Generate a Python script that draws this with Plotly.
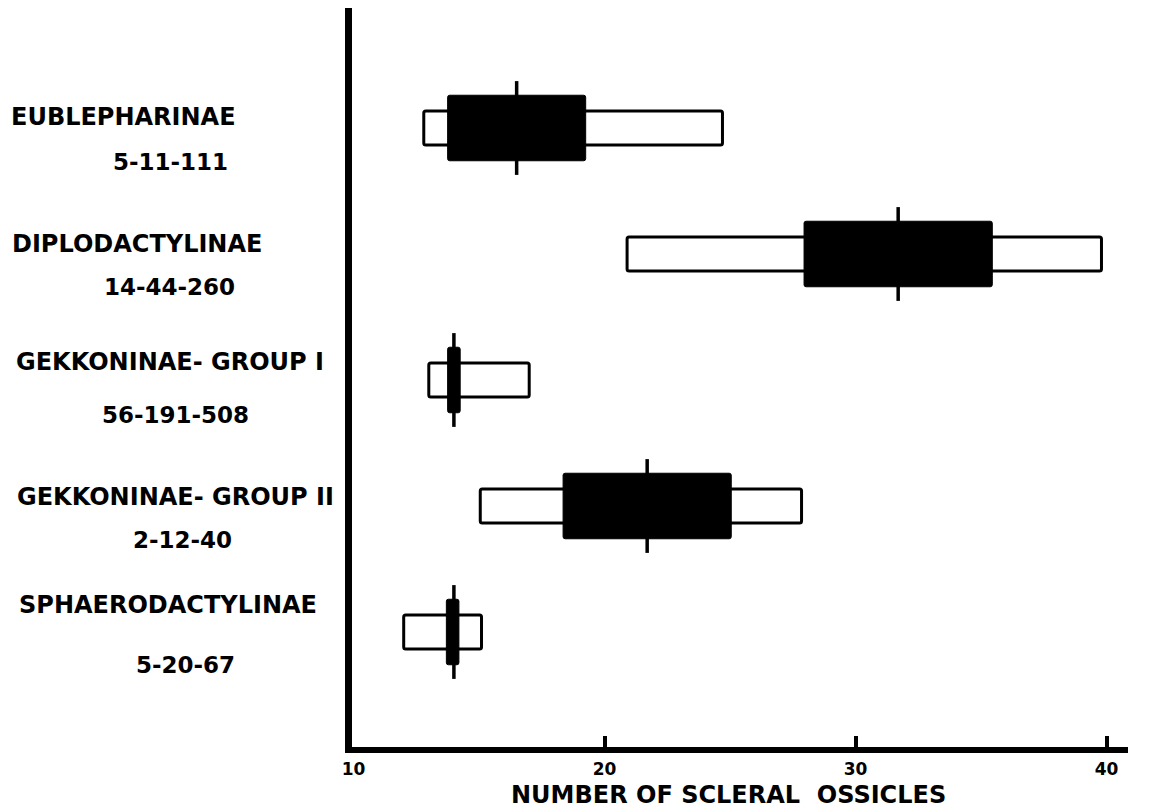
import plotly.graph_objects as go

# ---- data ----
groups = ["EUBLEPHARINAE", "DIPLODACTYLINAE", "GEKKONINAE- GROUP I",
          "GEKKONINAE- GROUP II", "SPHAERODACTYLINAE"]
counts = ["5-11-111", "14-44-260", "56-191-508", "2-12-40", "5-20-67"]
range_low = [12.8, 20.9, 13.0, 15.05, 12.0]
range_high = [24.7, 39.8, 17.0, 27.85, 15.1]
band_low = [13.75, 27.95, 13.75, 18.35, 13.7]
band_high = [19.25, 35.45, 14.25, 25.05, 14.2]
means = [16.5, 31.7, 14.0, 21.7, 14.0]
tick_vals = [10, 20, 30, 40]
tick_text = ["10", "20", "30", "40"]
x_title = "NUMBER OF SCLERAL\u00a0\u00a0OSSICLES"

# ---- layout geometry (pixels, page coordinates; page body has an 8px margin) ----
OFF = 8
W, H = 1161 - OFF, 809 - OFF
PLOT_L, PLOT_R, PLOT_T, PLOT_B = 352, 1128, 8, 747   # page pixels
X10_PX, PX_PER_UNIT = 353.5, 25.1
ML, MR, MT, MB = PLOT_L - OFF, W - (PLOT_R - OFF), PLOT_T - OFF, H - (PLOT_B - OFF)
PW = W - ML - MR
PH = H - MT - MB
FONT = "DejaVu Sans"
ROW_PX, ROW0_PX = 126, 128

ypos = list(range(len(groups)))

fig = go.Figure()
fig.add_trace(go.Bar(
    y=ypos, x=[h - l for l, h in zip(range_low, range_high)], base=range_low,
    orientation="h", width=0.27,
    marker=dict(color="white", line=dict(color="black", width=3), cornerradius=2),
    hoverinfo="skip", showlegend=False))
fig.add_trace(go.Bar(
    y=ypos, x=[h - l for l, h in zip(band_low, band_high)], base=band_low,
    orientation="h", width=0.52,
    marker=dict(color="black", line=dict(color="black", width=1), cornerradius=2),
    hoverinfo="skip", showlegend=False))
fig.add_trace(go.Scatter(
    y=ypos, x=means, mode="markers",
    marker=dict(symbol="line-ns", size=67, line=dict(color="black", width=3.5)),
    hoverinfo="skip", showlegend=False))
# invisible helper trace for the tick-only overlay axis
fig.add_trace(go.Scatter(x=[20], y=[0], xaxis="x2", mode="markers",
                         marker=dict(opacity=0), hoverinfo="skip", showlegend=False))

xr = [10 + (PLOT_L - X10_PX) / PX_PER_UNIT, 10 + (PLOT_R - X10_PX) / PX_PER_UNIT]
ytop = -(ROW0_PX - PLOT_T) / ROW_PX
yr = [ytop + PH / ROW_PX, ytop]

# left labels (page pixel positions)
name_x = [9, 10, 14, 15, 17]
name_shift = [11, 10, 18, 9, 27]
count_x = [170, 169, 175, 182, 185]
count_shift = [-34, -33, -35, -34, -33]
ann = []
for i, (g, c) in enumerate(zip(groups, counts)):
    ann.append(dict(text=g, xref="paper", yref="y", x=(name_x[i] - PLOT_L) / PW, y=ypos[i],
                    xanchor="left", yanchor="middle", yshift=name_shift[i], showarrow=False,
                    font=dict(family=FONT, size=24, color="black", weight="bold")))
    ann.append(dict(text=c, xref="paper", yref="y", x=(count_x[i] - PLOT_L) / PW, y=ypos[i],
                    xanchor="center", yanchor="middle", yshift=count_shift[i], showarrow=False,
                    font=dict(family=FONT, size=23, color="black", weight="bold")))
ann.append(dict(text=x_title, xref="paper", yref="paper", x=(728 - PLOT_L) / PW,
                y=-(795 - PLOT_B) / PH, xanchor="center", yanchor="middle", showarrow=False,
                font=dict(family=FONT, size=24, color="black", weight="bold")))

fig.update_layout(
    width=W, height=H, margin=dict(l=ML, r=MR, t=MT, b=MB, pad=0),
    paper_bgcolor="white", plot_bgcolor="white", barmode="overlay",
    showlegend=False, annotations=ann,
    xaxis=dict(range=xr, tickvals=tick_vals, ticktext=tick_text, ticks="",
               showline=True, linecolor="black", linewidth=6, showgrid=False,
               zeroline=False, ticklabelstandoff=2,
               tickfont=dict(family=FONT, size=17, color="black", weight="bold")),
    xaxis2=dict(range=xr, overlaying="x", anchor="y", side="bottom",
                tickvals=[20, 30, 40], ticks="inside", ticklen=11, tickwidth=4,
                tickcolor="black", showticklabels=False, showline=False,
                showgrid=False, zeroline=False),
    yaxis=dict(range=yr, showline=True, linecolor="black", linewidth=7,
               showticklabels=False, ticks="", showgrid=False, zeroline=False),
)

fig.write_html("out.html")
